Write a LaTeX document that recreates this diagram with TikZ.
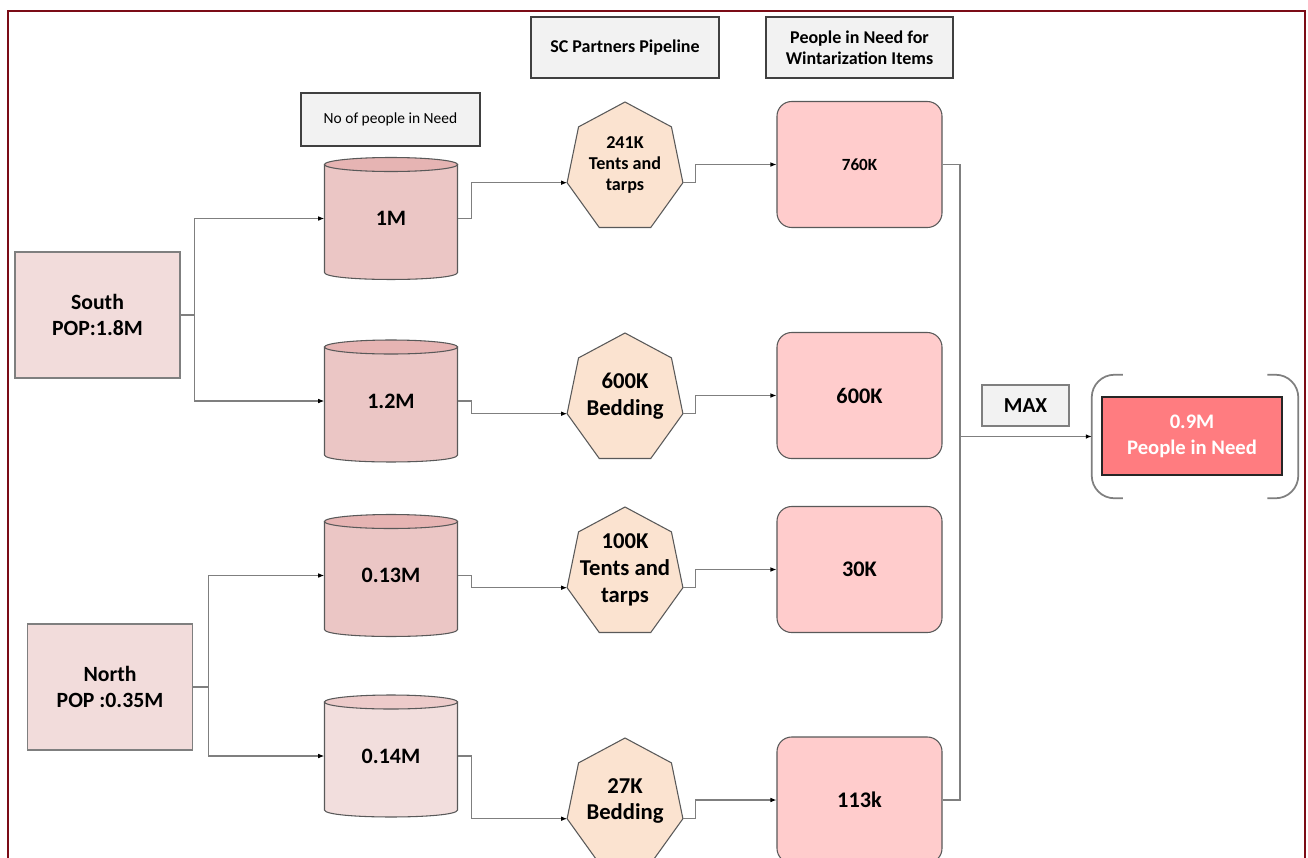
\documentclass[tikz,border=0pt]{standalone}
\usepackage{fontspec}
\setmainfont{Carlito}
\usetikzlibrary{arrows.meta}
\definecolor{framered}{HTML}{7B0C16}
\definecolor{hdrfill}{HTML}{F2F2F2}
\definecolor{regfill}{HTML}{F2DCDB}
\definecolor{cylfill}{HTML}{EBC6C5}
\definecolor{cyltop}{HTML}{E6B4B3}
\definecolor{cyllight}{HTML}{F2DEDD}
\definecolor{cyllighttop}{HTML}{EDCBCA}
\definecolor{heptfill}{HTML}{FBE3D0}
\definecolor{pinbox}{HTML}{FFCCCC}
\definecolor{resfill}{HTML}{FF7C80}
\definecolor{edgegray}{HTML}{7F7F7F}
\definecolor{dkgray}{HTML}{595959}
\newcommand\pxu{0.75pt}
\tikzset{
  hdr/.style={draw=black!75, fill=hdrfill, line width=1.2pt, inner sep=0pt, align=center,
    font=\fontsize{13.5}{15.75}\selectfont\bfseries},
  region/.style={draw=edgegray, fill=regfill, line width=0.8pt, inner sep=0pt, align=center,
    minimum width=165*\pxu, minimum height=126*\pxu,
    font=\fontsize{16.3}{20}\selectfont\bfseries},
  cyltext/.style={inner sep=0pt, align=center, font=\fontsize{16.5}{20}\selectfont\bfseries},
  hepttext/.style={inner sep=0pt, align=center, font=\fontsize{17}{20}\selectfont\bfseries},
  hepttextsmall/.style={inner sep=0pt, align=center, font=\fontsize{13.6}{15.75}\selectfont\bfseries},
  pinkbox/.style={draw=dkgray, fill=pinbox, line width=0.8pt, rounded corners=11pt, inner sep=0pt,
    minimum width=165*\pxu, minimum height=126*\pxu, align=center,
    font=\fontsize{16.7}{20}\selectfont\bfseries},
  conn/.style={draw=edgegray, line width=0.8pt, -{Latex[length=4.5pt,width=3.5pt,color=black]}},
  plainline/.style={draw=edgegray, line width=0.8pt},
  brk/.style={draw=edgegray, line width=1.3pt, rounded corners=17pt},
  res/.style={draw=black!85, fill=resfill, line width=1.3pt, inner sep=0pt, align=center,
    minimum width=180*\pxu, minimum height=78*\pxu, text=white,
    font=\fontsize{15.5}{19.5}\selectfont\bfseries}
}
% name, cx, cy, body fill, top fill, text
\newcommand\mycyl[6]{%
  \path[draw=dkgray, line width=0.8pt, fill=#4] (#2-66.5,#3-54) -- (#2-66.5,#3+54)
    .. controls (#2-66.5,#3+63.3) and (#2+66.5,#3+63.3) .. (#2+66.5,#3+54) -- (#2+66.5,#3-54) -- cycle;
  \path[draw=dkgray, line width=0.8pt, fill=#5] (#2,#3-54) ellipse [x radius=49.875pt, y radius=5.25pt];
  \node[cyltext, minimum width=133*\pxu, minimum height=122*\pxu] (#1) at (#2,#3) {#6};
}
% name, cx, cy, text style, text  (y axis points down, so angles are negated)
\newcommand\myhept[5]{%
  \begin{scope}[shift={(#2,#3)}, xscale=0.9]
    \path[draw=dkgray, line width=0.8pt, fill=heptfill] (-90:66) -- (-141.43:66) -- (-192.86:66)
      -- (-244.29:66) -- (-295.71:66) -- (-347.14:66) -- (-38.57:66) -- cycle;
    \coordinate (#1-l) at (-192.86:66);
    \coordinate (#1-r) at (-347.14:66);
  \end{scope}
  \node[#4] (#1) at (#2,#3-3) {#5};
}
\begin{document}
\begin{tikzpicture}[x=0.75pt, y=-0.75pt]
\useasboundingbox (0,0) rectangle (1308,857);
\clip (0,0) rectangle (1308,857);
\fill[white] (0,0) rectangle (1308,857);

% frame
\draw[framered, line width=1.6pt] (8,880) -- (8,11) -- (1305,11) -- (1305,880);

% headers
\node[hdr, minimum width=179*\pxu, minimum height=53*\pxu, line width=1.1pt,
  font=\fontsize{11.6}{14}\selectfont] (hnop) at (390.5,119.5) {No of people in Need};
\node[hdr, minimum width=188*\pxu, minimum height=61*\pxu] (hsc) at (625,47.5) {SC Partners Pipeline};
\node[hdr, minimum width=187*\pxu, minimum height=61*\pxu] (hpin) at (859.5,47.5) {People in Need for\\Wintarization Items};

% regions
\node[region] (south) at (97.5,315) {South\\POP:1.8M};
\node[region] (north) at (110,687) {North\\POP :0.35M};

% cylinders
\mycyl{c1}{391}{218.5}{cylfill}{cyltop}{1M}
\mycyl{c2}{391}{401}{cylfill}{cyltop}{1.2M}
\mycyl{c3}{391}{575.5}{cylfill}{cyltop}{0.13M}
\mycyl{c4}{391}{756}{cyllight}{cyllighttop}{0.14M}

% heptagons
\myhept{h1}{625}{168}{hepttextsmall}{241K\\Tents and\\tarps}
\myhept{h2}{625}{399}{hepttext}{600K\\Bedding}
\myhept{h3}{625}{573}{hepttext}{100K\\Tents and\\tarps}
\myhept{h4}{625}{804}{hepttext}{27K\\Bedding}

% pink boxes
\node[pinkbox, font=\fontsize{12.8}{15}\selectfont\bfseries] (b1) at (859.5,164.5) {760K};
\node[pinkbox] (b2) at (859.5,395.5) {600K};
\node[pinkbox] (b3) at (859.5,569.5) {30K};
\node[pinkbox] (b4) at (859.5,800) {113k};

% MAX and result
\node[hdr, draw=edgegray, line width=1pt, minimum width=87*\pxu, minimum height=41*\pxu,
  font=\fontsize{16}{19}\selectfont\bfseries] (max) at (1025.5,405.5) {MAX};
\node[inner sep=0pt, minimum width=206*\pxu, minimum height=123*\pxu] (grp) at (1195,436.5) {};
\draw[brk] ([xshift=23.25pt]grp.north west) -- (grp.north west) -- (grp.south west) -- ([xshift=23.25pt]grp.south west);
\draw[brk] ([xshift=-23.25pt]grp.north east) -- (grp.north east) -- (grp.south east) -- ([xshift=-23.25pt]grp.south east);
\node[res] (res) at (1192,436) {0.9M\\People in Need};

% connectors: regions to cylinders
\draw[conn] (south.east) -- ++(14,0) |- (c1.west);
\draw[conn] (south.east) -- ++(14,0) |- (c2.west);
\draw[conn] (north.east) -- ++(15,0) |- (c3.west);
\draw[conn] (north.east) -- ++(15,0) |- (c4.west);

% cylinders to heptagons
\draw[conn] (c1.east) -- ++(14,0) |- (h1-l);
\draw[conn] (c2.east) -- ++(14,0) |- (h2-l);
\draw[conn] (c3.east) -- ++(14,0) |- (h3-l);
\draw[conn] (c4.east) -- ++(14,0) |- (h4-l);

% heptagons to boxes
\draw[conn] (h1-r) -- ++(13,0) |- (b1.west);
\draw[conn] (h2-r) -- ++(13,0) |- (b2.west);
\draw[conn] (h3-r) -- ++(13,0) |- (b3.west);
\draw[conn] (h4-r) -- ++(13,0) |- (b4.west);

% boxes to result
\coordinate (j) at (960,436.5);
\draw[plainline] (b1.east) -| (j);
\draw[plainline] (b4.east) -| (j);
\draw[conn] (j) -- (grp.west);
\end{tikzpicture}
\end{document}
